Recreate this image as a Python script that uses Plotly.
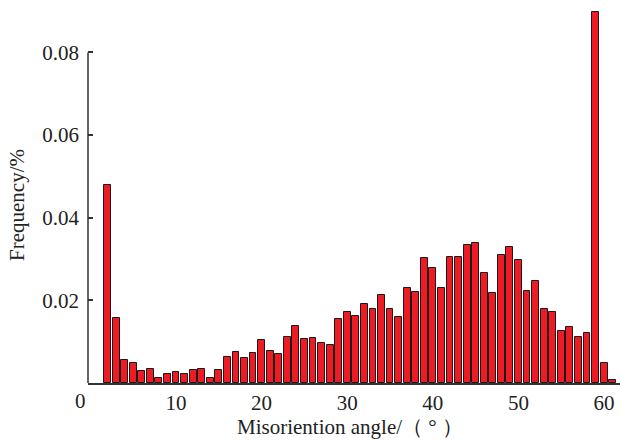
import plotly.graph_objects as go

# Misorientation angle bins (degrees) and frequencies
angles = list(range(2, 62))
frequency = [
    0.0480, 0.0157, 0.0056, 0.0048, 0.0030, 0.0034, 0.0013, 0.0023, 0.0027, 0.0023,
    0.0031, 0.0035, 0.0013, 0.0031, 0.0064, 0.0075, 0.0060, 0.0073, 0.0104, 0.0077,
    0.0071, 0.0111, 0.0139, 0.0107, 0.0108, 0.0096, 0.0093, 0.0156, 0.0171, 0.0161,
    0.0192, 0.0180, 0.0214, 0.0178, 0.0159, 0.0229, 0.0221, 0.0303, 0.0279, 0.0230,
    0.0305, 0.0304, 0.0335, 0.0340, 0.0267, 0.0219, 0.0311, 0.0330, 0.0297, 0.0222,
    0.0247, 0.0178, 0.0172, 0.0125, 0.0135, 0.0112, 0.0120, 0.0897, 0.0049, 0.0008,
]
x_ticks = [10, 20, 30, 40, 50, 60]
y_ticks = [0.02, 0.04, 0.06, 0.08]
y_ticklabels = ["0.02", "0.04", "0.06", "0.08"]

FONT = "Liberation Serif, Times New Roman, Noto Serif, serif"
AXIS_COLOR = "#333333"
TEXT_COLOR = "#222222"
FS = 21

fig = go.Figure()
fig.add_trace(go.Bar(
    x=angles, y=frequency, width=0.8,
    marker=dict(color="#ED1C24", line=dict(color="#1a1a1a", width=1)),
    showlegend=False,
))

fig.update_layout(
    width=621, height=440,
    margin=dict(l=88, r=1, t=0, b=57),
    plot_bgcolor="white", paper_bgcolor="white",
    font=dict(family=FONT, size=FS, color=TEXT_COLOR),
    bargap=0,
    xaxis=dict(
        range=[-0.28, 61.86], showgrid=False, zeroline=False,
        showline=True, linecolor=AXIS_COLOR, linewidth=1.5,
        tickvals=x_ticks, ticks="", ticklabelstandoff=0,
        tickfont=dict(family=FONT, size=FS, color=TEXT_COLOR),
    ),
    yaxis=dict(
        range=[0, 0.0927], showgrid=False, zeroline=False,
        showline=False, tickvals=y_ticks, ticktext=y_ticklabels,
        ticks="inside", ticklen=5, tickwidth=1.5, tickcolor=AXIS_COLOR,
        ticklabelstandoff=8,
        tickfont=dict(family=FONT, size=FS, color=TEXT_COLOR),
    ),
    shapes=[dict(
        type="line", xref="paper", yref="y", x0=0, x1=0, y0=0, y1=0.08,
        line=dict(color=AXIS_COLOR, width=1.5),
    )],
    annotations=[
        dict(text="0", xref="x", yref="paper", x=0, y=0, yanchor="top",
             xanchor="center", xshift=-10, yshift=-4, showarrow=False,
             font=dict(family=FONT, size=FS, color=TEXT_COLOR)),
        dict(text="Misoriention angle/（ ° ）", xref="paper", yref="paper",
             x=0.4925, y=-0.116, xanchor="center", yanchor="middle",
             showarrow=False, font=dict(family=FONT, size=FS, color=TEXT_COLOR)),
        dict(text="Frequency/%", xref="paper", yref="paper",
             x=-0.1335, y=0.4648, xanchor="center", yanchor="middle",
             textangle=-90, showarrow=False,
             font=dict(family=FONT, size=FS, color=TEXT_COLOR)),
    ],
)

fig.write_html("out.html")
